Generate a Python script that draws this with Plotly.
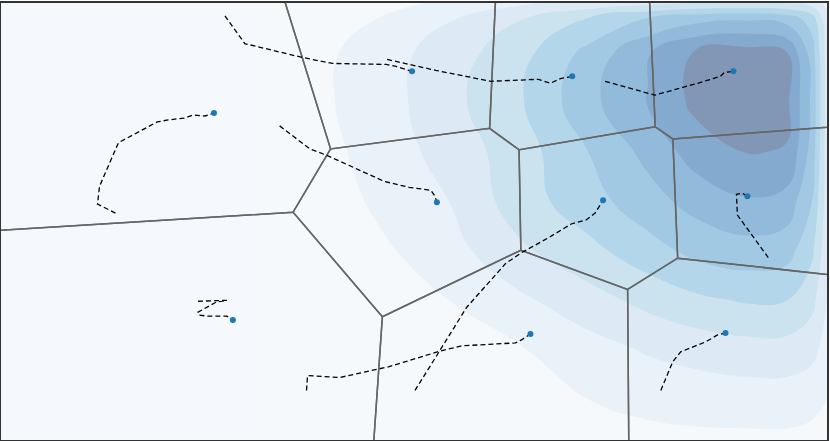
import plotly.graph_objects as go

# Coordinates: x to the right (0..830), y upward (0..441).
# The source chart used unequal axis scaling: one y unit is drawn
# shorter than one x unit, so the Voronoi cells are built in the
# stretched space and mapped back.
Y_STRETCH = 1.21

# random-walk trajectories; the last point of each is the current position
traj_x = [
    [115, 97, 99, 118, 157, 168, 185, 193, 205, 214],
    [225, 245, 303, 333, 387, 397, 413],
    [388, 437, 492, 540, 552, 563, 574],
    [607, 657, 700, 723, 727, 736],
    [280, 310, 328, 370, 385, 410, 432, 436, 438],
    [416, 440, 468, 507, 523, 550, 573, 588, 597, 605],
    [771, 740, 739, 745, 750],
    [198, 227, 216, 198, 199, 208, 227, 233],
    [307, 308, 340, 390, 442, 463, 517, 523, 532],
    [663, 675, 683, 708, 720, 728],
]
traj_y = [
    [229, 238, 256, 300, 321, 323, 325, 328, 327, 330],
    [428, 400, 386, 380, 379, 377, 372],
    [384, 373, 362, 364, 360, 365, 367],
    [362, 348, 360, 367, 371, 372],
    [317, 294, 287, 268, 261, 255, 252, 246, 240],
    [50, 89, 134, 178, 189, 204, 218, 222, 229, 242],
    [184, 227, 248, 249, 246],
    [140, 141, 139, 129, 126, 125, 125, 121],
    [50, 65, 63, 74, 90, 95, 98, 101, 107],
    [50, 79, 89, 99, 106, 108],
]

# density field, rows go bottom -> top
grid_x = [0, 150, 300, 380, 450, 520, 590, 650, 700, 750, 790, 815, 830]
grid_y = [0, 41, 91, 141, 191, 241, 291, 341, 391, 426, 441]
density = [
    [0, 0, 0, 0, 0.1, 0.3, 0.5, 0.7, 0.8, 0.8, 0.8, 0.7, 0.5],
    [0, 0, 0, 0, 0.2, 0.4, 1.0, 1.3, 1.4, 1.5, 1.5, 1.3, 1.0],
    [0, 0, 0, 0.1, 0.5, 0.9, 1.6, 2.1, 2.4, 2.6, 2.6, 2.3, 1.6],
    [0, 0, 0, 0.3, 1.0, 1.8, 2.6, 3.3, 3.8, 4.1, 4.0, 3.3, 2.0],
    [0, 0, 0, 0.8, 1.6, 2.8, 3.7, 4.6, 5.3, 5.6, 5.4, 4.2, 2.3],
    [0, 0, 0.1, 1.2, 2.0, 3.5, 4.6, 5.6, 6.4, 6.9, 6.6, 5.0, 2.5],
    [0, 0, 0.4, 1.4, 2.4, 3.5, 5.0, 6.3, 7.5, 8.05, 7.95, 5.6, 2.5],
    [0, 0, 0.6, 1.5, 2.7, 3.85, 5.7, 7.05, 8.3, 8.6, 8.2, 5.8, 2.5],
    [0, 0, 0.5, 1.5, 2.5, 3.6, 5.3, 6.9, 8.2, 8.4, 8.0, 5.5, 2.5],
    [0, 0, 0.2, 1.0, 1.9, 2.9, 4.0, 5.0, 5.6, 5.8, 5.5, 4.5, 2.2],
    [0, 0, 0, 0.5, 1.2, 1.8, 2.3, 2.7, 3.0, 3.0, 2.9, 2.5, 1.8],
]

# Blues sampled at the band midpoints (matplotlib-style contourf colours)
BAND_COLORS = [
    "rgb(236,244,251)", "rgb(214,230,244)", "rgb(189,215,236)",
    "rgb(152,199,224)", "rgb(107,174,214)", "rgb(71,149,200)",
    "rgb(40,120,185)", "rgb(14,88,160)", "rgb(8,50,110)",
]


def clip(poly, a, b, c):
    """Sutherland-Hodgman: keep the part of poly with a*x + b*y <= c."""
    out = []
    n = len(poly)
    for i in range(n):
        p, q = poly[i], poly[(i + 1) % n]
        fp = a * p[0] + b * p[1] - c
        fq = a * q[0] + b * q[1] - c
        if fp <= 0:
            out.append(p)
        if fp * fq < 0:
            t = fp / (fp - fq)
            out.append((p[0] + t * (q[0] - p[0]), p[1] + t * (q[1] - p[1])))
    return out


seeds = [(xs[-1], ys[-1] * Y_STRETCH) for xs, ys in zip(traj_x, traj_y)]
box = [(-300, -300), (1200, -300), (1200, 900), (-300, 900)]
cell_x, cell_y = [], []
for i, (sx, sy) in enumerate(seeds):
    poly = box
    for j, (tx, ty) in enumerate(seeds):
        if i == j:
            continue
        poly = clip(poly, tx - sx, ty - sy, (tx**2 + ty**2 - sx**2 - sy**2) / 2)
    for px, py in poly + poly[:1]:
        cell_x.append(px)
        cell_y.append(py / Y_STRETCH)
    cell_x.append(None)
    cell_y.append(None)

fig = go.Figure()

fig.add_trace(go.Contour(
    x=grid_x, y=grid_y, z=density,
    colorscale=[[k / 8, c] for k, c in enumerate(BAND_COLORS)],
    contours=dict(start=1, end=8, size=1, coloring="fill", showlines=False),
    line=dict(width=0, smoothing=1.3),
    opacity=0.5,
    showscale=False,
    hoverinfo="skip",
))

fig.add_trace(go.Scatter(
    x=cell_x, y=cell_y, mode="lines",
    line=dict(color="#666666", width=1.5),
    hoverinfo="skip", showlegend=False,
))

for xs, ys in zip(traj_x, traj_y):
    fig.add_trace(go.Scatter(
        x=xs, y=ys, mode="lines",
        line=dict(color="black", width=1.3, dash="5px,3px"),
        hoverinfo="skip", showlegend=False,
    ))

fig.add_trace(go.Scatter(
    x=[xs[-1] for xs in traj_x], y=[ys[-1] for ys in traj_y],
    mode="markers",
    marker=dict(color="#1f77b4", size=6),
    showlegend=False,
))

axis = dict(showgrid=False, zeroline=False, showticklabels=False, ticks="",
            showline=True, mirror=True, linecolor="#333333", linewidth=1.5)
fig.update_layout(
    width=830, height=441,
    margin=dict(l=1, r=1, t=1, b=1),
    plot_bgcolor="white", paper_bgcolor="white",
    showlegend=False,
    xaxis=dict(range=[0, 830], **axis),
    yaxis=dict(range=[0, 441], **axis),
)

# drop the browser's default page margin so the figure sits at the corner
fig.write_html(
    "out.html",
    config={"displayModeBar": False},
    post_script="document.body.style.margin='0';",
)
